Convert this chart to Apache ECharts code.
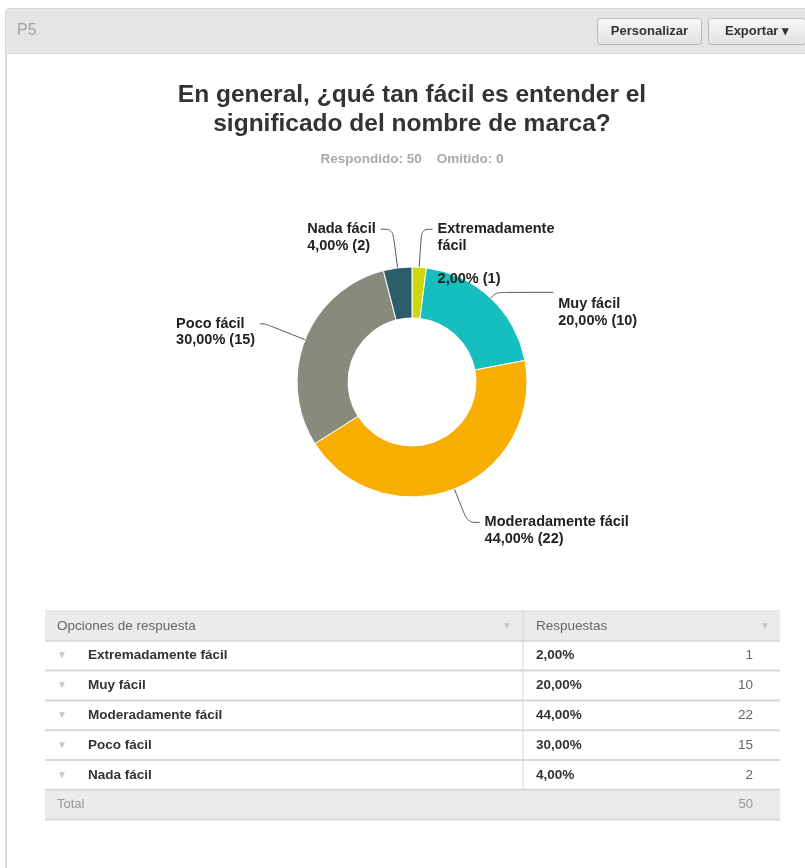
<!DOCTYPE html>
<html><head><meta charset="utf-8">
<script src="https://cdn.jsdelivr.net/npm/echarts@6/dist/echarts.min.js"></script>
<style>html,body{margin:0;padding:0;background:#fff}#c{width:805px;height:868px}</style>
</head><body><div id="c"></div>
<script>
// ---- data ----
const questionId = 'P5';
const titleLines = ['En general, ¿qué tan fácil es entender el', 'significado del nombre de marca?'];
const answered = 50;
const skipped = 0;
const categories = ['Extremadamente fácil', 'Muy fácil', 'Moderadamente fácil', 'Poco fácil', 'Nada fácil'];
const counts = [1, 10, 22, 15, 2];
const percents = [2, 20, 44, 30, 4];
const total = 50;
const tableHeaders = ['Opciones de respuesta', 'Respuestas'];
const totalLabel = 'Total';
const buttonLabels = ['Personalizar', 'Exportar ▾'];
const colors = ['#d0d70d', '#17bec0', '#f8ae00', '#888a7b', '#2b5d6b'];

// ---- layout / style tuning ----
const FONT = 'Liberation Sans, Arial, Helvetica, sans-serif';
const LH = 16.5;
const labelTune = [
  { len: 38, len2: 11, drop: 0, wrap: true },
  { len: 8, len2: 57, drop: 12 },
  { len: 36, len2: 12, drop: 0 },
  { len: 43, len2: 5, drop: 0 },
  { len: 39, len2: 12, drop: 0 }
];
const fmtPct = v => v.toFixed(2).replace('.', ',') + '%';

function labelLines(i) {
  const name = labelTune[i].wrap ? categories[i].replace(' ', '\n') + '\n' : categories[i];
  return (name + '\n' + fmtPct(percents[i]) + ' (' + counts[i] + ')').split('\n');
}

const pieData = categories.map((c, i) => {
  const n = labelLines(i).length;
  return {
    name: c,
    value: counts[i],
    itemStyle: { color: colors[i] },
    label: { padding: [(n - 1) * LH + 2 * labelTune[i].drop, 0, 0, 0] },
    labelLine: { length: labelTune[i].len, length2: labelTune[i].len2 }
  };
});

// ---- graphic: header, title, table ----
const g = [];
function txt(text, x, y, o) {
  o = o || {};
  g.push({
    type: 'text', silent: true,
    style: {
      text: text, x: x, y: y,
      fill: o.color || '#333',
      fontSize: o.size || 13, fontWeight: o.weight || 'normal', fontFamily: FONT,
      align: o.align || 'left', textAlign: o.align || 'left',
      verticalAlign: 'middle', textVerticalAlign: 'middle'
    },
    z: 10
  });
}
function hline(x1, x2, y, color, w) {
  g.push({ type: 'line', silent: true, shape: { x1: x1, y1: y, x2: x2, y2: y }, style: { stroke: color, lineWidth: w || 1 }, z: 5 });
}
function vline(x, y1, y2, color, w) {
  g.push({ type: 'line', silent: true, shape: { x1: x, y1: y1, x2: x, y2: y2 }, style: { stroke: color, lineWidth: w || 1 }, z: 5 });
}
function rect(x, y, w, h, fill, stroke, r) {
  g.push({ type: 'rect', silent: true, shape: { x: x, y: y, width: w, height: h, r: r || 0 }, style: { fill: fill, stroke: stroke || null, lineWidth: 1 }, z: 1 });
}

// panel header
rect(5.5, 8.5, 820, 45, '#e5e5e5', '#d8d8d8', [4, 0, 0, 0]);
vline(6, 53, 868, '#dadada', 2);
txt(questionId, 17, 31, { size: 16, color: '#a3a3a3' });
// buttons
const btn = [[597, 104], [708, 97]];
buttonLabels.forEach((b, i) => {
  g.push({
    type: 'rect', silent: true,
    shape: { x: btn[i][0] + 0.5, y: 18.5, width: btn[i][1], height: 26, r: 3 },
    style: {
      fill: new echarts.graphic.LinearGradient(0, 0, 0, 1, [{ offset: 0, color: '#f8f8f8' }, { offset: 1, color: '#e2e2e2' }]),
      stroke: '#b9b9b9', lineWidth: 1
    }, z: 3
  });
  txt(b, btn[i][0] + btn[i][1] / 2 + 0.5, 31.5, { size: 13, weight: 'bold', color: '#333', align: 'center' });
});

// title & subtitle
titleLines.forEach((t, i) => txt(t, 412, 95 + i * 29, { size: 24.5, weight: 'bold', color: '#333', align: 'center' }));
txt('Respondido: ' + answered + '    Omitido: ' + skipped, 412, 159, { size: 13.5, weight: 'bold', color: '#aaaaaa', align: 'center' });

// table
const tX1 = 45, tX2 = 780, colX = 523, tTop = 611, rh = 29.8;
rect(tX1, tTop, tX2 - tX1, rh, '#ebebeb');
hline(tX1, tX2, tTop, '#d9d9d9', 1);
txt(tableHeaders[0], 57, tTop + rh / 2, { size: 13.5, color: '#666' });
txt(tableHeaders[1], 536, tTop + rh / 2, { size: 13.5, color: '#666' });
txt('▼', 507, tTop + rh / 2, { size: 10, color: '#c8c8c8', align: 'center' });
txt('▼', 765, tTop + rh / 2, { size: 10, color: '#c8c8c8', align: 'center' });
categories.forEach((c, i) => {
  const y0 = tTop + (i + 1) * rh;
  hline(tX1, tX2, y0, '#d8d8d8', 2);
  const cy = y0 + rh / 2;
  txt('▼', 62, cy, { size: 10, color: '#c8c8c8', align: 'center' });
  txt(c, 88, cy, { size: 13.5, weight: 'bold', color: '#333' });
  txt(fmtPct(percents[i]), 536, cy, { size: 13.5, weight: 'bold', color: '#333' });
  txt(String(counts[i]), 753, cy, { size: 13.5, color: '#666', align: 'right' });
});
const totTop = tTop + (categories.length + 1) * rh;
vline(colX, tTop, totTop, '#d5d5d5', 1);
rect(tX1, totTop, tX2 - tX1, rh, '#ebebeb');
hline(tX1, tX2, totTop, '#d8d8d8', 2);
hline(tX1, tX2, totTop + rh, '#d8d8d8', 2);
txt(totalLabel, 57, totTop + rh / 2, { size: 13, color: '#999' });
txt(String(total), 753, totTop + rh / 2, { size: 13, color: '#999', align: 'right' });

const chart = echarts.init(document.getElementById('c'), null, { renderer: 'canvas' });
chart.setOption({
  animation: false,
  backgroundColor: '#fff',
  graphic: g,
  series: [{
    type: 'pie',
    center: [412, 382],
    radius: [64, 115],
    startAngle: 90,
    clockwise: true,
    avoidLabelOverlap: false,
    itemStyle: { borderColor: '#fff', borderWidth: 1 },
    label: {
      show: true,
      position: 'outside',
      alignTo: 'none',
      distanceToLabelLine: 5,
      color: '#222',
      fontSize: 14.5,
      fontWeight: 'bold',
      fontFamily: FONT,
      lineHeight: LH,
      formatter: p => labelLines(p.dataIndex).map(l => '{t|' + (l || ' ') + '}').join('\n'),
      rich: { t: { align: 'left', color: '#222', fontSize: 14.5, fontWeight: 'bold', fontFamily: FONT, lineHeight: LH } }
    },
    labelLine: { show: true, smooth: 0.35, lineStyle: { color: '#555', width: 1 } },
    emphasis: { disabled: true },
    data: pieData
  }]
});
</script>
</body></html>
